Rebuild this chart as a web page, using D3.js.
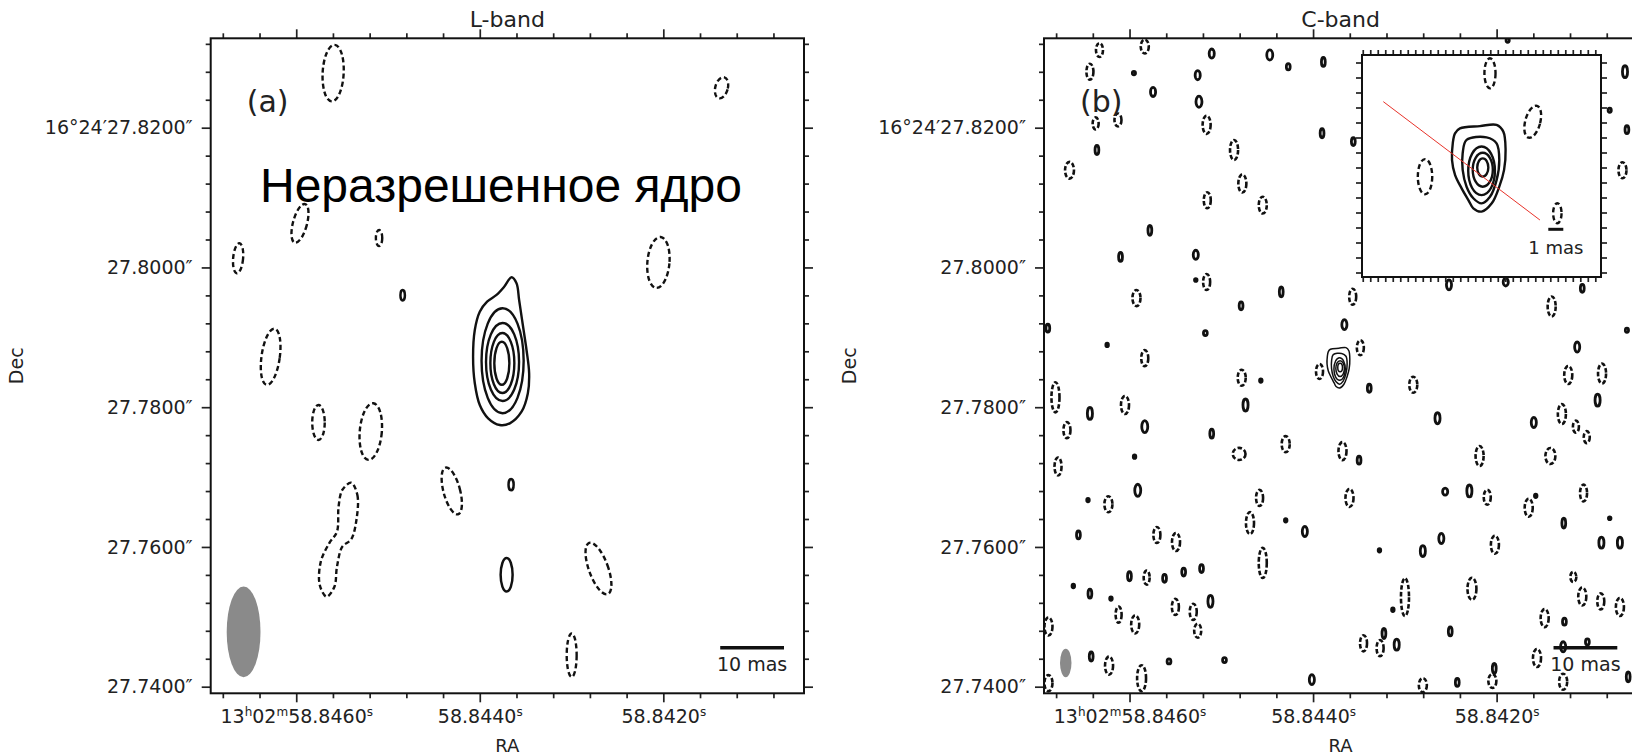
<!DOCTYPE html>
<html>
<head>
<meta charset="utf-8">
<script src="https://cdn.jsdelivr.net/npm/d3@7/dist/d3.min.js"></script>
<style>
  body { margin: 0; background: #fff; }
  svg text { font-family: "DejaVu Sans", sans-serif; fill: #222; }
</style>
</head>
<body>
<svg id="fig" width="1632" height="755"></svg>
<script>
// ---- chart values ----
var panelTitles = ["L-band", "C-band"];
var panelTags = ["(a)", "(b)"];
var noteText = "Неразрешенное ядро";

var raMajor = [58.8460, 58.8440, 58.8420];
var raLabels = ["13h02m58.8460s", "58.8440s", "58.8420s"];
var decMajor = [27.82, 27.80, 27.78, 27.76, 27.74];
var decLabels = ["16°24′27.8200″", "27.8000″", "27.7800″", "27.7600″", "27.7400″"];
var raStep = 0.0004, decStep = 0.004;
var raView = [58.846932, 58.840467];     // RA seconds across the map
var decView = [27.832794, 27.739055];    // Dec arcsec across the map
var coreRa = 58.843763, coreDec = 27.786512, decDeg = 16.4077;

// beams (full widths, mas) and scale bars (mas)
var beamL = [5.3, 13.0], beamC = [1.8, 4.1];
var barMain = 10, barInset = 1;

// L-band, offsets from the core in mas: [x (east), y (north), semi-x, semi-y, tilt deg]
var lCoreOuter = [[-1.57,12.08],[-2.35,11.22],[-2.76,8.83],[-3.30,5.50],[-3.92,1.67],[-4.33,-1.66],
  [-4.13,-4.52],[-3.14,-7.16],[-1.30,-8.82],[0.27,-9.06],[2.10,-8.10],[3.41,-6.20],[4.19,-3.09],
  [4.46,0.72],[4.19,4.54],[3.41,7.16],[2.26,8.59],[0.78,9.55],[-0.36,10.65]];
var lCoreRings = [[-0.17,0.14,3.3,7.51],[-0.16,-0.04,2.59,5.58],[-0.13,-0.19,1.88,4.29],[-0.05,-0.23,1.18,3.08]];
var lNegChain = [[23.57,-17.32],[22.6,-19.08],[22.75,-22.65],[23.57,-25.41],[24.96,-26.47],[25.8,-29.34],
  [26.2,-32.2],[27.43,-33.63],[28.5,-31.95],[28.34,-28.62],[27.02,-25.99],[25.8,-24.33],[25.55,-20.75],[24.96,-18.36]];
var lNeg = [[26.4,41.3,1.65,4.05,3],[-34.5,39.2,0.98,1.55,15],[31.6,19.8,1.1,2.86,15],[41.3,14.8,0.78,2.15,5],
  [19.2,17.7,0.5,1.15,0],[-24.6,14.2,1.73,3.65,5],[36.2,0.7,1.43,4.05,8],[28.7,-8.7,0.98,2.5,0],
  [20.5,-10.0,1.73,4.06,5],[7.8,-18.5,1.3,3.45,-15],[-15.2,-29.6,1.5,3.9,-20],[-11.0,-42.0,0.78,3.1,0]];
var lPos = [[15.5,9.5,0.35,0.75,0],[-1.5,-17.6,0.4,0.8,0],[-0.8,-30.5,0.94,2.4,0]];

// C-band noise contours, offsets in mas: [x, y, semi-x, semi-y]
var cPos = [[19.3,44.1,.4,.65],[10.2,43.9,.47,.72],[7.3,42.2,.3,.45],[31.5,41.3,.25,.25],[21.5,41.0,.4,.65],
  [28.5,38.6,.4,.65],[21.3,37.2,.47,.8],[37.3,30.3,.3,.65],[29.0,18.8,.3,.72],[33.6,15.0,.3,.65],[21.8,15.3,.4,.65],
  [21.8,11.7,.2,.2],[8.4,10.0,.3,.72],[1.8,42.9,.3,.65],[2.0,32.7,.3,.65],[-2.9,31.5,.3,.57],[-45.5,41.5,.4,.86],
  [-43.1,36.0,.25,.3],[-45.8,33.2,.3,.57],[-27.1,46.0,.25,.3],[-17.9,11.0,.4,.72],[-26.8,11.4,.4,.57],
  [-38.8,10.5,.3,.57],[-38.0,2.1,.4,.72],[-45.8,4.5,.25,.3],[14.7,8.0,.3,.57],[20.3,4.1,.3,.36],[35.7,2.4,.2,.25],
  [45.0,4.8,.3,.57],[-1.5,5.3,.4,.72],[11.6,-2.7,.2,.25],[-5.4,-3.8,.3,.57],[38.4,-7.4,.4,.86],[29.8,-9.3,.47,.86],
  [19.3,-10.3,.3,.65],[14.0,-6.2,.4,.86],[-3.8,-14.1,.3,.57],[-16.1,-8.1,.4,.79],[-31.2,-8.7,.4,.72],
  [-41.2,-5.5,.4,.86],[38.7,-19.8,.2,.25],[30.9,-18.4,.47,.86],[31.4,-13.6,.2,.25],[40.2,-24.8,.3,.57],
  [7.7,-22.7,.2,.25],[4.7,-24.3,.4,.72],[-7.0,-27.0,.2,.25],[-13.8,-27.1,.4,.79],[-16.7,-25.3,.4,.72],
  [-17.3,-18.6,.4,.5],[-21.1,-18.5,.4,.86],[-31.5,-19.2,.2,.25],[-35.9,-23.1,.3,.72],[-43.1,-22.4,.2,.2],
  [-41.8,-25.9,.4,.79],[-44.7,-25.9,.4,.79],[-9.1,-35.5,.2,.25],[-7.7,-38.9,.3,.72],[-9.7,-40.5,.4,.79],
  [-18.1,-38.6,.3,.65],[-36.0,-37.2,.3,.5],[-35.8,-40.8,.4,.72],[-39.6,-40.1,.3,.43],[-25.0,-43.9,.3,.72],
  [-19.2,-45.9,.3,.57],[3.6,-45.5,.4,.72],[-46.0,-45.1,.3,.72],[38.2,-42.2,.3,.65],[26.0,-42.9,.3,.36],
  [17.3,-42.7,.3,.36],[41.0,-32.1,.2,.25],[38.4,-33.2,.3,.65],[35.1,-33.9,.2,.25],[32.2,-30.7,.3,.65],
  [26.7,-31.0,.3,.57],[23.7,-30.1,.3,.57],[20.9,-29.6,.3,.57],[19.5,-34.3,.4,.86]];
var cNeg = [[36.9,44.6,.55,1.0],[38.4,41.5,.55,1.15],[29.8,45.1,.63,1.0],[37.5,34.1,.47,.86],[34.0,34.6,.55,.93],
  [20.1,33.9,.63,1.29],[15.8,30.3,.63,1.43],[41.6,27.4,.7,1.2],[14.5,25.5,.63,1.29],[20.0,23.1,.55,1.15],
  [11.3,22.4,.63,1.2],[20.1,11.4,.55,1.15],[31.1,9.1,.63,1.15],[-45.1,27.4,.63,1.15],[-34.0,7.9,.63,1.43],
  [-36.6,-1.9,.63,1.29],[-41.9,-1.7,.63,1.43],[-2.8,9.3,.55,1.15],[29.8,0.5,.55,1.15],[-4.0,2.0,.55,1.07],
  [2.4,-1.4,.55,1.07],[14.6,-2.3,.63,1.15],[-12.3,-3.3,.63,1.15],[43.8,-5.1,.63,2.15],[32.9,-6.2,.63,1.29],
  [42.0,-9.8,.55,1.15],[15.0,-13.2,1.0,.86],[7.7,-11.8,.63,1.15],[-1.2,-12.8,.63,1.29],[-22.7,-13.5,.63,1.43],
  [-35.6,-7.5,.63,1.43],[-37.8,-9.3,.47,.86],[-39.5,-10.8,.47,.86],[-33.8,-13.5,.78,1.15],[43.4,-15.0,.55,1.29],
  [35.5,-20.4,.63,1.15],[27.9,-24.8,.55,1.15],[24.9,-25.8,.63,1.29],[13.3,-23.1,.63,1.57],[11.8,-19.5,.55,1.15],
  [11.3,-28.8,.63,2.15],[-2.3,-19.5,.63,1.29],[-23.9,-19.4,.55,1.07],[-25.1,-26.2,.63,1.29],[-30.4,-20.9,.63,1.29],
  [-39.0,-18.8,.55,1.2],[-21.5,-32.5,.7,1.57],[-11.0,-33.7,.63,2.7],[-4.5,-40.3,.55,1.15],[-7.1,-41.0,.55,1.15],
  [-32.9,-36.7,.63,1.29],[-37.4,-30.8,.47,.72],[-38.8,-33.6,.63,1.29],[-41.7,-34.3,.55,1.15],[-44.7,-35.1,.63,1.29],
  [-31.7,-42.4,.63,1.29],[-35.8,-45.8,.63,1.15],[-24.7,-45.7,.63,1.0],[-13.8,-46.3,.63,1.0],[44.9,-37.9,.63,1.29],
  [44.9,-46.0,.63,1.15],[35.4,-43.5,.63,1.29],[30.3,-45.3,.7,1.86],[33.9,-36.2,.47,1.15],[31.3,-37.6,.63,1.29],
  [29.5,-30.9,.47,1.0],[25.0,-35.1,.55,1.15],[22.2,-35.8,.55,1.15],[21.5,-38.5,.55,1.0]];

// C-band core (mas from its own peak), peak offset from the L-band core
var cCoreAt = [-0.83, -0.83];
var cCoreOuter = [[1.52,2.61],[0.19,2.76],[-0.92,2.84],[-1.37,2.39],[-1.52,1.17],[-1.42,-0.16],[-1.1,-1.28],
  [-0.6,-2.39],[0.08,-2.94],[0.63,-2.72],[0.96,-2.17],[1.41,-1.39],[1.85,-0.49],[2.05,0.49],[2.0,1.61],[1.85,2.28]];
var cCoreSecond = [[1.08,1.84],[-0.25,2.01],[-0.92,1.61],[-1.1,0.49],[-0.92,-0.84],[-0.48,-1.95],[0.08,-2.39],
  [0.63,-2.05],[1.08,-1.28],[1.34,-0.16],[1.34,0.95]];
var cCoreRings = [[0.08,-0.22,0.89,1.62],[0,-0.15,0.67,1.13],[0,0,0.37,0.61]];
var insetNeg = [[-0.48,6.28,0.37,1.0,0],[-3.33,3.05,0.5,1.1,15],[3.85,-0.61,0.48,1.17,0],[-4.97,-3.05,0.28,0.67,0]];
var insetLine = [[6.63,4.39],[-3.81,-3.5]];
var insetViewX = [8.05, -7.88], insetViewY = [7.5, -7.3];

// ---- drawing ----
var svg = d3.select("#fig");
var frame = { left: 210.7, right: 804, top: 38.3, bottom: 693.3 };
var shift = 833.3;
var masPerSec = 15000 * Math.cos(decDeg * Math.PI / 180);
var ink = "#111";

function gridValues(domain, step) {
  var lo = Math.min(domain[0], domain[1]), hi = Math.max(domain[0], domain[1]);
  return d3.range(Math.ceil(lo / step - 1e-6), Math.floor(hi / step + 1e-6) + 1).map(function(k) { return +(k * step).toFixed(6); });
}
function notIn(list) {
  return function(v) { return !list.some(function(m) { return Math.abs(m - v) < 1e-7; }); };
}

function drawAxis(g, gen, tr, vals, size, labels) {
  var a = g.append("g").attr("transform", tr)
    .call(gen.tickValues(vals).tickSize(size).tickPadding(7)
      .tickFormat(labels ? function(d, i) { return labels[i]; } : ""));
  a.select(".domain").remove();
  a.attr("font-family", null).attr("font-size", 19).attr("color", "#222");
  a.selectAll("line").attr("stroke-width", 1.7);
  return a;
}

function drawEllipses(sel, data, mx, my, dash, width) {
  sel.selectAll(null).data(data).enter().append("ellipse")
    .attr("cx", function(d) { return mx(d[0]); })
    .attr("cy", function(d) { return my(d[1]); })
    .attr("rx", function(d) { return Math.abs(mx(d[0] + d[2]) - mx(d[0])); })
    .attr("ry", function(d) { return Math.abs(my(d[1] + d[3]) - my(d[1])); })
    .attr("transform", function(d) { return d[4] ? "rotate(" + d[4] + "," + mx(d[0]) + "," + my(d[1]) + ")" : null; })
    .attr("fill", "none").attr("stroke", ink).attr("stroke-width", width)
    .attr("stroke-dasharray", dash);
}

function drawLoop(sel, pts, mx, my, dash, width) {
  var line = d3.line().x(function(d) { return mx(d[0]); }).y(function(d) { return my(d[1]); })
    .curve(d3.curveCatmullRomClosed.alpha(0.5));
  sel.append("path").attr("d", line(pts)).attr("fill", "none")
    .attr("stroke", ink).attr("stroke-width", width).attr("stroke-dasharray", dash);
}

function panel(i) {
  var ox = i * shift, L = frame.left + ox, R = frame.right + ox;
  var x = d3.scaleLinear().domain(raView).range([L, R]);
  var y = d3.scaleLinear().domain(decView).range([frame.top, frame.bottom]);
  var mx = function(m) { return x(coreRa + m / masPerSec); };
  var my = function(m) { return y(coreDec + m / 1000); };
  var g = svg.append("g");
  g.append("clipPath").attr("id", "clip" + i).append("rect")
    .attr("x", L).attr("y", frame.top).attr("width", R - L).attr("height", frame.bottom - frame.top);
  var plot = g.append("g").attr("clip-path", "url(#clip" + i + ")");

  // axes
  var raMinor = gridValues(raView, raStep).filter(notIn(raMajor));
  var decMinor = gridValues(decView, decStep).filter(notIn(decMajor));
  var bottom = drawAxis(g, d3.axisBottom(x), "translate(0," + frame.bottom + ")", raMajor, 9, raLabels);
  drawAxis(g, d3.axisBottom(x), "translate(0," + frame.bottom + ")", raMinor, 5);
  drawAxis(g, d3.axisTop(x), "translate(0," + frame.top + ")", raMajor, 9);
  drawAxis(g, d3.axisTop(x), "translate(0," + frame.top + ")", raMinor, 5);
  drawAxis(g, d3.axisLeft(y), "translate(" + L + ",0)", decMajor, 9, decLabels).selectAll("text").attr("dx", -2);
  drawAxis(g, d3.axisLeft(y), "translate(" + L + ",0)", decMinor, 5);
  drawAxis(g, d3.axisRight(y), "translate(" + R + ",0)", decMajor, 9);
  drawAxis(g, d3.axisRight(y), "translate(" + R + ",0)", decMinor, 5);

  // superscript h, m, s in RA labels
  bottom.selectAll(".tick text").each(function(d, k) {
    var t = d3.select(this).text(null), re = /([\d.]+)([hms])/g, m, up = false;
    while ((m = re.exec(raLabels[k]))) {
      t.append("tspan").attr("dy", up ? 7 : null).text(m[1]);
      t.append("tspan").attr("dy", -7).attr("font-size", 12).text(m[2]);
      up = true;
    }
  });

  // labels
  var cx = (L + R) / 2;
  g.append("text").attr("x", cx).attr("y", 26.5).attr("text-anchor", "middle").attr("font-size", 22).text(panelTitles[i]);
  g.append("text").attr("x", cx).attr("y", 751.5).attr("text-anchor", "middle").attr("font-size", 18).text("RA");
  g.append("text").attr("transform", "translate(" + (23 + ox) + "," + ((frame.top + frame.bottom) / 2) + ") rotate(-90)")
    .attr("text-anchor", "middle").attr("font-size", 19).text("Dec");
  g.append("text").attr("x", L + 36).attr("y", 112).attr("font-size", 30).text(panelTags[i]);

  // beam
  var beam = i === 0 ? beamL : beamC;
  var brx = Math.abs(mx(beam[0] / 2) - mx(0)), bry = Math.abs(my(beam[1] / 2) - my(0));
  plot.append("ellipse").attr("cx", L + brx + 16).attr("cy", frame.bottom - bry - 16)
    .attr("rx", brx).attr("ry", bry).attr("fill", "#8a8a8a");

  return { g: g, plot: plot, mx: mx, my: my, L: L, R: R };
}

function scaleBar(g, mx, R) {
  var len = Math.abs(mx(barMain) - mx(0)), x2 = R - 20, x1 = x2 - len;
  g.append("line").attr("x1", x1).attr("x2", x2).attr("y1", 647.7).attr("y2", 647.7)
    .attr("stroke", ink).attr("stroke-width", 3.5);
  g.append("text").attr("x", (x1 + x2) / 2).attr("y", 671).attr("text-anchor", "middle")
    .attr("font-size", 19).text(barMain + " mas");
}

// panel (a): L-band
var a = panel(0);
drawEllipses(a.plot, lNeg, a.mx, a.my, "5,3", 2.4);
drawLoop(a.plot, lNegChain, a.mx, a.my, "5,3", 2.4);
drawEllipses(a.plot, lPos, a.mx, a.my, null, 2.5);
drawLoop(a.plot, lCoreOuter, a.mx, a.my, null, 2.4);
drawEllipses(a.plot, lCoreRings, a.mx, a.my, null, 2.4);
scaleBar(a.g, a.mx, a.R);
a.g.append("text").attr("x", 260).attr("y", 201.7).attr("font-size", 48)
  .style("font-family", "'Liberation Sans', Arial, sans-serif").style("fill", "#000").text(noteText);
a.g.append("rect").attr("x", a.L).attr("y", frame.top).attr("width", a.R - a.L)
  .attr("height", frame.bottom - frame.top).attr("fill", "none").attr("stroke", ink).attr("stroke-width", 2);

// panel (b): C-band
var b = panel(1);
drawEllipses(b.plot, cNeg, b.mx, b.my, "4.5,2.2", 2.6);
drawEllipses(b.plot, cPos, b.mx, b.my, null, 2.8);
var cmx = function(m) { return b.mx(cCoreAt[0] + m); }, cmy = function(m) { return b.my(cCoreAt[1] + m); };
drawLoop(b.plot, cCoreOuter, cmx, cmy, null, 1.5);
drawLoop(b.plot, cCoreSecond, cmx, cmy, null, 1.5);
drawEllipses(b.plot, cCoreRings, cmx, cmy, null, 1.5);
scaleBar(b.g, b.mx, b.R);
b.g.append("rect").attr("x", b.L).attr("y", frame.top).attr("width", b.R - b.L)
  .attr("height", frame.bottom - frame.top).attr("fill", "none").attr("stroke", ink).attr("stroke-width", 2);

// inset of the C-band core
var ib = { left: 1362, right: 1601, top: 55, bottom: 277 };
var ix = d3.scaleLinear().domain(insetViewX).range([ib.left, ib.right]);
var iy = d3.scaleLinear().domain(insetViewY).range([ib.top, ib.bottom]);
var ig = svg.append("g");
ig.append("rect").attr("x", ib.left).attr("y", ib.top).attr("width", ib.right - ib.left)
  .attr("height", ib.bottom - ib.top).attr("fill", "#fff");
drawAxis(ig, d3.axisTop(ix), "translate(0," + ib.top + ")", gridValues(insetViewX, 0.5), 5);
drawAxis(ig, d3.axisBottom(ix), "translate(0," + ib.bottom + ")", gridValues(insetViewX, 0.5), 5);
drawAxis(ig, d3.axisLeft(iy), "translate(" + ib.left + ",0)", gridValues(insetViewY, 1), 6);
drawAxis(ig, d3.axisRight(iy), "translate(" + ib.right + ",0)", gridValues(insetViewY, 1), 6);
drawEllipses(ig, insetNeg, ix, iy, "5,3", 2.4);
drawLoop(ig, cCoreOuter, ix, iy, null, 2.4);
drawLoop(ig, cCoreSecond, ix, iy, null, 2.4);
drawEllipses(ig, cCoreRings, ix, iy, null, 2.4);
ig.append("line").attr("x1", ix(insetLine[0][0])).attr("y1", iy(insetLine[0][1]))
  .attr("x2", ix(insetLine[1][0])).attr("y2", iy(insetLine[1][1]))
  .attr("stroke", "#e8332a").attr("stroke-width", 1);
var ilen = Math.abs(ix(barInset) - ix(0)), ix2 = ib.right - 37.7, ix1 = ix2 - ilen;
ig.append("line").attr("x1", ix1).attr("x2", ix2).attr("y1", ib.bottom - 47.7).attr("y2", ib.bottom - 47.7)
  .attr("stroke", ink).attr("stroke-width", 3);
ig.append("text").attr("x", (ix1 + ix2) / 2).attr("y", ib.bottom - 23.5).attr("text-anchor", "middle")
  .attr("font-size", 18).text(barInset + " mas");
ig.append("rect").attr("x", ib.left).attr("y", ib.top).attr("width", ib.right - ib.left)
  .attr("height", ib.bottom - ib.top).attr("fill", "none").attr("stroke", ink).attr("stroke-width", 2);
</script>
</body>
</html>
